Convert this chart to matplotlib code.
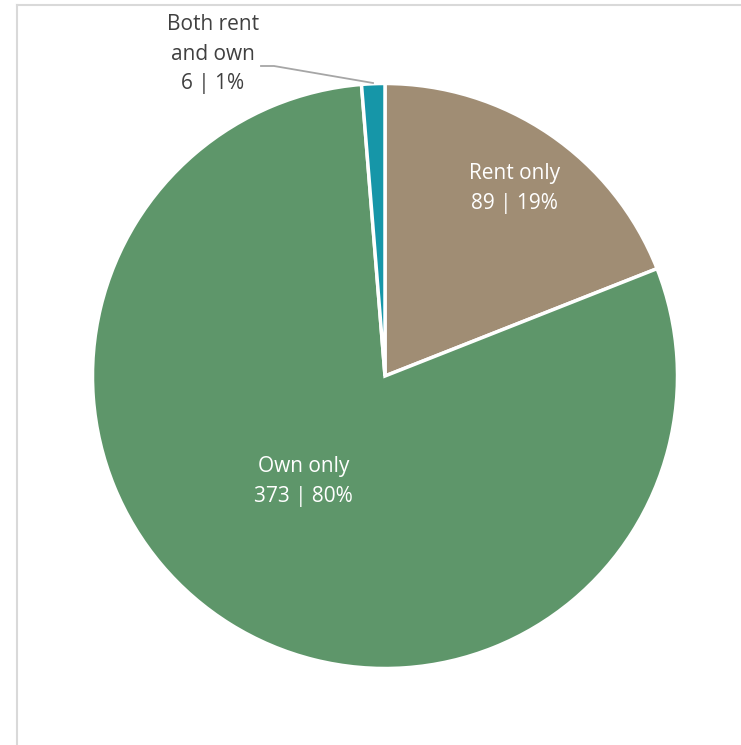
import matplotlib
matplotlib.use("Agg")
import matplotlib.pyplot as plt
import numpy as np

categories = ["Rent only", "Own only", "Both rent\nand own"]
counts = [89, 373, 6]
percents = [19, 80, 1]
colors = ["#A08D74", "#5E966A", "#1696A8"]

plt.rcParams['font.family'] = ['Open Sans', 'DejaVu Sans']

W, H = 741, 745
fig = plt.figure(figsize=(W / 100, H / 100), dpi=100)
ax = fig.add_axes([0, 0, 1, 1])
ax.set_xlim(0, W)
ax.set_ylim(0, H)
ax.axis('off')

cx, cy, R = 385, H - 376, 292.5
wedges, _ = ax.pie(counts, colors=colors, startangle=90, counterclock=False,
                   center=(cx, cy), radius=R,
                   wedgeprops=dict(edgecolor='white', linewidth=2.5))
ax.set_xlim(0, W)
ax.set_ylim(0, H)
ax.set_aspect('equal')

labels = [f"{c}\n{n} | {p}%" for c, n, p in zip(categories, counts, percents)]

fs = 15
ls = 1.55
# label positions (relative to centre, in radius units)
ax.text(cx + 0.442 * R, cy + 0.64 * R, labels[0], ha='center', va='center',
        color='white', fontsize=fs, linespacing=ls)
ax.text(cx - 0.278 * R, cy - 0.36 * R, labels[1], ha='center', va='center',
        color='white', fontsize=fs, linespacing=ls)
ax.text(213, H - 54, labels[2], ha='center', va='center',
        color='#404040', fontsize=fs, linespacing=ls)
ax.plot([261, 274, 373], [H - 66, H - 66, H - 83], color='#A6A6A6', lw=1.3)

# chart border lines
ax.plot([16.5, 16.5], [0, H - 4.5], color='#D9D9D9', lw=1.5, clip_on=False)
ax.plot([16.5, W], [H - 4.5, H - 4.5], color='#D9D9D9', lw=1.5, clip_on=False)

fig.savefig("out.png", dpi=100)
